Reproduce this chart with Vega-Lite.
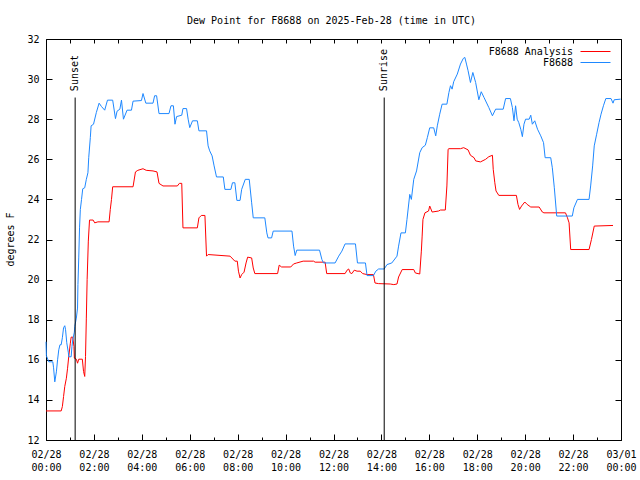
{
  "$schema": "https://vega.github.io/schema/vega-lite/v6.json",
  "autosize": "none",
  "padding": {"left": 46, "top": 39, "right": 19, "bottom": 40},
  "width": 575,
  "height": 401,
  "title": {"text": "Dew Point for F8688 on 2025-Feb-28 (time in UTC)", "font": "DejaVu Sans Mono", "fontSize": 10, "fontWeight": "normal", "color": "#000", "anchor": "middle", "offset": 8, "dx": -2},
  "config": {
    "view": {"stroke": "#000", "strokeWidth": 1},
    "font": "DejaVu Sans Mono",
    "axis": {"labelFont": "DejaVu Sans Mono", "labelFontSize": 10, "labelColor": "#000", "titleFont": "DejaVu Sans Mono", "titleFontSize": 10, "titleFontWeight": "normal", "titleColor": "#000", "tickColor": "#000", "tickWidth": 1, "domain": false, "grid": false}
  },
  "datasets": {
    "sun": [
      {"event": "Sunset", "time": "2025-02-28T01:13Z"},
      {"event": "Sunrise", "time": "2025-02-28T14:07Z"}
    ],
    "dew": [
      {"series": "F8688 Analysis", "time": "2025-02-28T00:00Z", "dewpoint": 13.45},
      {"series": "F8688 Analysis", "time": "2025-02-28T00:38Z", "dewpoint": 13.45},
      {"series": "F8688 Analysis", "time": "2025-02-28T00:41Z", "dewpoint": 13.67},
      {"series": "F8688 Analysis", "time": "2025-02-28T00:44Z", "dewpoint": 14.17},
      {"series": "F8688 Analysis", "time": "2025-02-28T00:47Z", "dewpoint": 14.67},
      {"series": "F8688 Analysis", "time": "2025-02-28T00:51Z", "dewpoint": 15.08},
      {"series": "F8688 Analysis", "time": "2025-02-28T00:54Z", "dewpoint": 15.58},
      {"series": "F8688 Analysis", "time": "2025-02-28T00:57Z", "dewpoint": 16.17},
      {"series": "F8688 Analysis", "time": "2025-02-28T01:01Z", "dewpoint": 16.83},
      {"series": "F8688 Analysis", "time": "2025-02-28T01:03Z", "dewpoint": 17.13},
      {"series": "F8688 Analysis", "time": "2025-02-28T01:07Z", "dewpoint": 17.13},
      {"series": "F8688 Analysis", "time": "2025-02-28T01:10Z", "dewpoint": 16.67},
      {"series": "F8688 Analysis", "time": "2025-02-28T01:11Z", "dewpoint": 16.08},
      {"series": "F8688 Analysis", "time": "2025-02-28T01:16Z", "dewpoint": 16.03},
      {"series": "F8688 Analysis", "time": "2025-02-28T01:19Z", "dewpoint": 15.83},
      {"series": "F8688 Analysis", "time": "2025-02-28T01:22Z", "dewpoint": 16.03},
      {"series": "F8688 Analysis", "time": "2025-02-28T01:31Z", "dewpoint": 16.03},
      {"series": "F8688 Analysis", "time": "2025-02-28T01:34Z", "dewpoint": 15.42},
      {"series": "F8688 Analysis", "time": "2025-02-28T01:37Z", "dewpoint": 15.17},
      {"series": "F8688 Analysis", "time": "2025-02-28T01:39Z", "dewpoint": 16.17},
      {"series": "F8688 Analysis", "time": "2025-02-28T01:41Z", "dewpoint": 18.08},
      {"series": "F8688 Analysis", "time": "2025-02-28T01:43Z", "dewpoint": 20.0},
      {"series": "F8688 Analysis", "time": "2025-02-28T01:46Z", "dewpoint": 21.92},
      {"series": "F8688 Analysis", "time": "2025-02-28T01:49Z", "dewpoint": 22.97},
      {"series": "F8688 Analysis", "time": "2025-02-28T01:58Z", "dewpoint": 22.97},
      {"series": "F8688 Analysis", "time": "2025-02-28T02:02Z", "dewpoint": 22.83},
      {"series": "F8688 Analysis", "time": "2025-02-28T02:10Z", "dewpoint": 22.88},
      {"series": "F8688 Analysis", "time": "2025-02-28T02:38Z", "dewpoint": 22.88},
      {"series": "F8688 Analysis", "time": "2025-02-28T02:41Z", "dewpoint": 23.5},
      {"series": "F8688 Analysis", "time": "2025-02-28T02:44Z", "dewpoint": 24.0},
      {"series": "F8688 Analysis", "time": "2025-02-28T02:47Z", "dewpoint": 24.63},
      {"series": "F8688 Analysis", "time": "2025-02-28T03:38Z", "dewpoint": 24.63},
      {"series": "F8688 Analysis", "time": "2025-02-28T03:44Z", "dewpoint": 25.37},
      {"series": "F8688 Analysis", "time": "2025-02-28T03:50Z", "dewpoint": 25.45},
      {"series": "F8688 Analysis", "time": "2025-02-28T04:03Z", "dewpoint": 25.53},
      {"series": "F8688 Analysis", "time": "2025-02-28T04:11Z", "dewpoint": 25.45},
      {"series": "F8688 Analysis", "time": "2025-02-28T04:28Z", "dewpoint": 25.42},
      {"series": "F8688 Analysis", "time": "2025-02-28T04:38Z", "dewpoint": 25.37},
      {"series": "F8688 Analysis", "time": "2025-02-28T04:43Z", "dewpoint": 24.8},
      {"series": "F8688 Analysis", "time": "2025-02-28T04:53Z", "dewpoint": 24.67},
      {"series": "F8688 Analysis", "time": "2025-02-28T05:29Z", "dewpoint": 24.67},
      {"series": "F8688 Analysis", "time": "2025-02-28T05:34Z", "dewpoint": 24.8},
      {"series": "F8688 Analysis", "time": "2025-02-28T05:40Z", "dewpoint": 24.8},
      {"series": "F8688 Analysis", "time": "2025-02-28T05:43Z", "dewpoint": 22.58},
      {"series": "F8688 Analysis", "time": "2025-02-28T06:19Z", "dewpoint": 22.58},
      {"series": "F8688 Analysis", "time": "2025-02-28T06:23Z", "dewpoint": 23.08},
      {"series": "F8688 Analysis", "time": "2025-02-28T06:29Z", "dewpoint": 23.2},
      {"series": "F8688 Analysis", "time": "2025-02-28T06:38Z", "dewpoint": 23.2},
      {"series": "F8688 Analysis", "time": "2025-02-28T06:42Z", "dewpoint": 21.17},
      {"series": "F8688 Analysis", "time": "2025-02-28T06:46Z", "dewpoint": 21.25},
      {"series": "F8688 Analysis", "time": "2025-02-28T07:41Z", "dewpoint": 21.17},
      {"series": "F8688 Analysis", "time": "2025-02-28T07:53Z", "dewpoint": 20.92},
      {"series": "F8688 Analysis", "time": "2025-02-28T07:59Z", "dewpoint": 20.92},
      {"series": "F8688 Analysis", "time": "2025-02-28T08:02Z", "dewpoint": 20.42},
      {"series": "F8688 Analysis", "time": "2025-02-28T08:06Z", "dewpoint": 20.08},
      {"series": "F8688 Analysis", "time": "2025-02-28T08:10Z", "dewpoint": 20.25},
      {"series": "F8688 Analysis", "time": "2025-02-28T08:16Z", "dewpoint": 20.37},
      {"series": "F8688 Analysis", "time": "2025-02-28T08:21Z", "dewpoint": 20.83},
      {"series": "F8688 Analysis", "time": "2025-02-28T08:25Z", "dewpoint": 21.12},
      {"series": "F8688 Analysis", "time": "2025-02-28T08:35Z", "dewpoint": 21.08},
      {"series": "F8688 Analysis", "time": "2025-02-28T08:39Z", "dewpoint": 20.58},
      {"series": "F8688 Analysis", "time": "2025-02-28T08:43Z", "dewpoint": 20.3},
      {"series": "F8688 Analysis", "time": "2025-02-28T09:40Z", "dewpoint": 20.3},
      {"series": "F8688 Analysis", "time": "2025-02-28T09:44Z", "dewpoint": 20.72},
      {"series": "F8688 Analysis", "time": "2025-02-28T09:50Z", "dewpoint": 20.63},
      {"series": "F8688 Analysis", "time": "2025-02-28T10:13Z", "dewpoint": 20.63},
      {"series": "F8688 Analysis", "time": "2025-02-28T10:20Z", "dewpoint": 20.78},
      {"series": "F8688 Analysis", "time": "2025-02-28T10:28Z", "dewpoint": 20.83},
      {"series": "F8688 Analysis", "time": "2025-02-28T10:44Z", "dewpoint": 20.92},
      {"series": "F8688 Analysis", "time": "2025-02-28T11:10Z", "dewpoint": 20.92},
      {"series": "F8688 Analysis", "time": "2025-02-28T11:14Z", "dewpoint": 20.87},
      {"series": "F8688 Analysis", "time": "2025-02-28T11:39Z", "dewpoint": 20.87},
      {"series": "F8688 Analysis", "time": "2025-02-28T11:43Z", "dewpoint": 20.3},
      {"series": "F8688 Analysis", "time": "2025-02-28T12:29Z", "dewpoint": 20.3},
      {"series": "F8688 Analysis", "time": "2025-02-28T12:34Z", "dewpoint": 20.47},
      {"series": "F8688 Analysis", "time": "2025-02-28T12:38Z", "dewpoint": 20.53},
      {"series": "F8688 Analysis", "time": "2025-02-28T12:42Z", "dewpoint": 20.33},
      {"series": "F8688 Analysis", "time": "2025-02-28T12:46Z", "dewpoint": 20.3},
      {"series": "F8688 Analysis", "time": "2025-02-28T12:52Z", "dewpoint": 20.47},
      {"series": "F8688 Analysis", "time": "2025-02-28T12:59Z", "dewpoint": 20.42},
      {"series": "F8688 Analysis", "time": "2025-02-28T13:07Z", "dewpoint": 20.42},
      {"series": "F8688 Analysis", "time": "2025-02-28T13:13Z", "dewpoint": 20.3},
      {"series": "F8688 Analysis", "time": "2025-02-28T13:24Z", "dewpoint": 20.25},
      {"series": "F8688 Analysis", "time": "2025-02-28T13:40Z", "dewpoint": 20.25},
      {"series": "F8688 Analysis", "time": "2025-02-28T13:44Z", "dewpoint": 19.83},
      {"series": "F8688 Analysis", "time": "2025-02-28T13:53Z", "dewpoint": 19.8},
      {"series": "F8688 Analysis", "time": "2025-02-28T14:22Z", "dewpoint": 19.78},
      {"series": "F8688 Analysis", "time": "2025-02-28T14:31Z", "dewpoint": 19.75},
      {"series": "F8688 Analysis", "time": "2025-02-28T14:39Z", "dewpoint": 19.78},
      {"series": "F8688 Analysis", "time": "2025-02-28T14:43Z", "dewpoint": 20.13},
      {"series": "F8688 Analysis", "time": "2025-02-28T14:52Z", "dewpoint": 20.5},
      {"series": "F8688 Analysis", "time": "2025-02-28T15:21Z", "dewpoint": 20.5},
      {"series": "F8688 Analysis", "time": "2025-02-28T15:25Z", "dewpoint": 20.33},
      {"series": "F8688 Analysis", "time": "2025-02-28T15:36Z", "dewpoint": 20.28},
      {"series": "F8688 Analysis", "time": "2025-02-28T15:40Z", "dewpoint": 21.42},
      {"series": "F8688 Analysis", "time": "2025-02-28T15:42Z", "dewpoint": 22.17},
      {"series": "F8688 Analysis", "time": "2025-02-28T15:44Z", "dewpoint": 23.0},
      {"series": "F8688 Analysis", "time": "2025-02-28T15:49Z", "dewpoint": 23.33},
      {"series": "F8688 Analysis", "time": "2025-02-28T15:58Z", "dewpoint": 23.42},
      {"series": "F8688 Analysis", "time": "2025-02-28T16:01Z", "dewpoint": 23.67},
      {"series": "F8688 Analysis", "time": "2025-02-28T16:07Z", "dewpoint": 23.37},
      {"series": "F8688 Analysis", "time": "2025-02-28T16:23Z", "dewpoint": 23.42},
      {"series": "F8688 Analysis", "time": "2025-02-28T16:28Z", "dewpoint": 23.47},
      {"series": "F8688 Analysis", "time": "2025-02-28T16:40Z", "dewpoint": 23.47},
      {"series": "F8688 Analysis", "time": "2025-02-28T16:44Z", "dewpoint": 24.67},
      {"series": "F8688 Analysis", "time": "2025-02-28T16:47Z", "dewpoint": 26.5},
      {"series": "F8688 Analysis", "time": "2025-02-28T16:49Z", "dewpoint": 26.53},
      {"series": "F8688 Analysis", "time": "2025-02-28T17:18Z", "dewpoint": 26.53},
      {"series": "F8688 Analysis", "time": "2025-02-28T17:26Z", "dewpoint": 26.58},
      {"series": "F8688 Analysis", "time": "2025-02-28T17:37Z", "dewpoint": 26.47},
      {"series": "F8688 Analysis", "time": "2025-02-28T17:43Z", "dewpoint": 26.2},
      {"series": "F8688 Analysis", "time": "2025-02-28T17:52Z", "dewpoint": 26.08},
      {"series": "F8688 Analysis", "time": "2025-02-28T17:56Z", "dewpoint": 25.92},
      {"series": "F8688 Analysis", "time": "2025-02-28T18:08Z", "dewpoint": 25.87},
      {"series": "F8688 Analysis", "time": "2025-02-28T18:21Z", "dewpoint": 26.0},
      {"series": "F8688 Analysis", "time": "2025-02-28T18:29Z", "dewpoint": 26.13},
      {"series": "F8688 Analysis", "time": "2025-02-28T18:38Z", "dewpoint": 26.2},
      {"series": "F8688 Analysis", "time": "2025-02-28T18:40Z", "dewpoint": 25.5},
      {"series": "F8688 Analysis", "time": "2025-02-28T18:44Z", "dewpoint": 24.83},
      {"series": "F8688 Analysis", "time": "2025-02-28T18:47Z", "dewpoint": 24.42},
      {"series": "F8688 Analysis", "time": "2025-02-28T18:54Z", "dewpoint": 24.2},
      {"series": "F8688 Analysis", "time": "2025-02-28T19:38Z", "dewpoint": 24.2},
      {"series": "F8688 Analysis", "time": "2025-02-28T19:42Z", "dewpoint": 23.75},
      {"series": "F8688 Analysis", "time": "2025-02-28T19:46Z", "dewpoint": 23.5},
      {"series": "F8688 Analysis", "time": "2025-02-28T19:51Z", "dewpoint": 23.67},
      {"series": "F8688 Analysis", "time": "2025-02-28T19:59Z", "dewpoint": 23.87},
      {"series": "F8688 Analysis", "time": "2025-02-28T20:05Z", "dewpoint": 23.75},
      {"series": "F8688 Analysis", "time": "2025-02-28T20:14Z", "dewpoint": 23.62},
      {"series": "F8688 Analysis", "time": "2025-02-28T20:35Z", "dewpoint": 23.62},
      {"series": "F8688 Analysis", "time": "2025-02-28T20:43Z", "dewpoint": 23.37},
      {"series": "F8688 Analysis", "time": "2025-02-28T20:47Z", "dewpoint": 23.33},
      {"series": "F8688 Analysis", "time": "2025-02-28T21:41Z", "dewpoint": 23.33},
      {"series": "F8688 Analysis", "time": "2025-02-28T21:46Z", "dewpoint": 23.08},
      {"series": "F8688 Analysis", "time": "2025-02-28T21:50Z", "dewpoint": 22.83},
      {"series": "F8688 Analysis", "time": "2025-02-28T21:54Z", "dewpoint": 21.5},
      {"series": "F8688 Analysis", "time": "2025-02-28T22:40Z", "dewpoint": 21.5},
      {"series": "F8688 Analysis", "time": "2025-02-28T22:46Z", "dewpoint": 22.0},
      {"series": "F8688 Analysis", "time": "2025-02-28T22:53Z", "dewpoint": 22.67},
      {"series": "F8688 Analysis", "time": "2025-02-28T23:40Z", "dewpoint": 22.7},
      {"series": "F8688", "time": "2025-02-28T00:00Z", "dewpoint": 16.9},
      {"series": "F8688", "time": "2025-02-28T00:01Z", "dewpoint": 16.2},
      {"series": "F8688", "time": "2025-02-28T00:07Z", "dewpoint": 15.9},
      {"series": "F8688", "time": "2025-02-28T00:17Z", "dewpoint": 15.9},
      {"series": "F8688", "time": "2025-02-28T00:19Z", "dewpoint": 15.6},
      {"series": "F8688", "time": "2025-02-28T00:22Z", "dewpoint": 14.9},
      {"series": "F8688", "time": "2025-02-28T00:26Z", "dewpoint": 15.4},
      {"series": "F8688", "time": "2025-02-28T00:29Z", "dewpoint": 16.0},
      {"series": "F8688", "time": "2025-02-28T00:32Z", "dewpoint": 16.5},
      {"series": "F8688", "time": "2025-02-28T00:35Z", "dewpoint": 16.75},
      {"series": "F8688", "time": "2025-02-28T00:38Z", "dewpoint": 16.75},
      {"series": "F8688", "time": "2025-02-28T00:41Z", "dewpoint": 17.1},
      {"series": "F8688", "time": "2025-02-28T00:44Z", "dewpoint": 17.6},
      {"series": "F8688", "time": "2025-02-28T00:47Z", "dewpoint": 17.7},
      {"series": "F8688", "time": "2025-02-28T00:49Z", "dewpoint": 17.5},
      {"series": "F8688", "time": "2025-02-28T00:52Z", "dewpoint": 16.85},
      {"series": "F8688", "time": "2025-02-28T00:56Z", "dewpoint": 16.35},
      {"series": "F8688", "time": "2025-02-28T00:57Z", "dewpoint": 16.15},
      {"series": "F8688", "time": "2025-02-28T01:03Z", "dewpoint": 16.15},
      {"series": "F8688", "time": "2025-02-28T01:05Z", "dewpoint": 16.67},
      {"series": "F8688", "time": "2025-02-28T01:07Z", "dewpoint": 17.0},
      {"series": "F8688", "time": "2025-02-28T01:11Z", "dewpoint": 17.38},
      {"series": "F8688", "time": "2025-02-28T01:12Z", "dewpoint": 17.67},
      {"series": "F8688", "time": "2025-02-28T01:16Z", "dewpoint": 18.08},
      {"series": "F8688", "time": "2025-02-28T01:19Z", "dewpoint": 18.58},
      {"series": "F8688", "time": "2025-02-28T01:20Z", "dewpoint": 19.75},
      {"series": "F8688", "time": "2025-02-28T01:22Z", "dewpoint": 21.08},
      {"series": "F8688", "time": "2025-02-28T01:24Z", "dewpoint": 22.58},
      {"series": "F8688", "time": "2025-02-28T01:26Z", "dewpoint": 23.5},
      {"series": "F8688", "time": "2025-02-28T01:29Z", "dewpoint": 24.0},
      {"series": "F8688", "time": "2025-02-28T01:32Z", "dewpoint": 24.53},
      {"series": "F8688", "time": "2025-02-28T01:37Z", "dewpoint": 24.58},
      {"series": "F8688", "time": "2025-02-28T01:41Z", "dewpoint": 25.0},
      {"series": "F8688", "time": "2025-02-28T01:45Z", "dewpoint": 25.33},
      {"series": "F8688", "time": "2025-02-28T01:47Z", "dewpoint": 26.08},
      {"series": "F8688", "time": "2025-02-28T01:51Z", "dewpoint": 27.08},
      {"series": "F8688", "time": "2025-02-28T01:53Z", "dewpoint": 27.67},
      {"series": "F8688", "time": "2025-02-28T01:59Z", "dewpoint": 27.75},
      {"series": "F8688", "time": "2025-02-28T02:06Z", "dewpoint": 28.33},
      {"series": "F8688", "time": "2025-02-28T02:13Z", "dewpoint": 28.8},
      {"series": "F8688", "time": "2025-02-28T02:19Z", "dewpoint": 28.63},
      {"series": "F8688", "time": "2025-02-28T02:27Z", "dewpoint": 28.45},
      {"series": "F8688", "time": "2025-02-28T02:34Z", "dewpoint": 28.95},
      {"series": "F8688", "time": "2025-02-28T02:47Z", "dewpoint": 28.95},
      {"series": "F8688", "time": "2025-02-28T02:54Z", "dewpoint": 28.03},
      {"series": "F8688", "time": "2025-02-28T02:58Z", "dewpoint": 28.4},
      {"series": "F8688", "time": "2025-02-28T03:05Z", "dewpoint": 28.5},
      {"series": "F8688", "time": "2025-02-28T03:09Z", "dewpoint": 28.95},
      {"series": "F8688", "time": "2025-02-28T03:14Z", "dewpoint": 28.0},
      {"series": "F8688", "time": "2025-02-28T03:23Z", "dewpoint": 28.45},
      {"series": "F8688", "time": "2025-02-28T03:34Z", "dewpoint": 28.45},
      {"series": "F8688", "time": "2025-02-28T03:38Z", "dewpoint": 28.9},
      {"series": "F8688", "time": "2025-02-28T03:59Z", "dewpoint": 28.93},
      {"series": "F8688", "time": "2025-02-28T04:03Z", "dewpoint": 29.28},
      {"series": "F8688", "time": "2025-02-28T04:10Z", "dewpoint": 28.8},
      {"series": "F8688", "time": "2025-02-28T04:28Z", "dewpoint": 28.8},
      {"series": "F8688", "time": "2025-02-28T04:32Z", "dewpoint": 29.17},
      {"series": "F8688", "time": "2025-02-28T04:37Z", "dewpoint": 29.17},
      {"series": "F8688", "time": "2025-02-28T04:43Z", "dewpoint": 28.28},
      {"series": "F8688", "time": "2025-02-28T05:08Z", "dewpoint": 28.28},
      {"series": "F8688", "time": "2025-02-28T05:13Z", "dewpoint": 28.67},
      {"series": "F8688", "time": "2025-02-28T05:19Z", "dewpoint": 28.67},
      {"series": "F8688", "time": "2025-02-28T05:23Z", "dewpoint": 27.75},
      {"series": "F8688", "time": "2025-02-28T05:27Z", "dewpoint": 28.13},
      {"series": "F8688", "time": "2025-02-28T05:40Z", "dewpoint": 28.2},
      {"series": "F8688", "time": "2025-02-28T05:43Z", "dewpoint": 28.53},
      {"series": "F8688", "time": "2025-02-28T05:52Z", "dewpoint": 28.53},
      {"series": "F8688", "time": "2025-02-28T05:56Z", "dewpoint": 28.0},
      {"series": "F8688", "time": "2025-02-28T06:00Z", "dewpoint": 27.58},
      {"series": "F8688", "time": "2025-02-28T06:07Z", "dewpoint": 27.92},
      {"series": "F8688", "time": "2025-02-28T06:19Z", "dewpoint": 27.92},
      {"series": "F8688", "time": "2025-02-28T06:23Z", "dewpoint": 27.42},
      {"series": "F8688", "time": "2025-02-28T06:42Z", "dewpoint": 27.42},
      {"series": "F8688", "time": "2025-02-28T06:46Z", "dewpoint": 26.67},
      {"series": "F8688", "time": "2025-02-28T06:50Z", "dewpoint": 26.42},
      {"series": "F8688", "time": "2025-02-28T06:56Z", "dewpoint": 26.17},
      {"series": "F8688", "time": "2025-02-28T07:01Z", "dewpoint": 25.67},
      {"series": "F8688", "time": "2025-02-28T07:07Z", "dewpoint": 25.12},
      {"series": "F8688", "time": "2025-02-28T07:24Z", "dewpoint": 25.12},
      {"series": "F8688", "time": "2025-02-28T07:28Z", "dewpoint": 24.5},
      {"series": "F8688", "time": "2025-02-28T07:43Z", "dewpoint": 24.5},
      {"series": "F8688", "time": "2025-02-28T07:47Z", "dewpoint": 24.83},
      {"series": "F8688", "time": "2025-02-28T07:53Z", "dewpoint": 24.83},
      {"series": "F8688", "time": "2025-02-28T07:58Z", "dewpoint": 23.95},
      {"series": "F8688", "time": "2025-02-28T08:06Z", "dewpoint": 23.95},
      {"series": "F8688", "time": "2025-02-28T08:10Z", "dewpoint": 24.5},
      {"series": "F8688", "time": "2025-02-28T08:19Z", "dewpoint": 25.0},
      {"series": "F8688", "time": "2025-02-28T08:29Z", "dewpoint": 25.0},
      {"series": "F8688", "time": "2025-02-28T08:35Z", "dewpoint": 23.83},
      {"series": "F8688", "time": "2025-02-28T08:39Z", "dewpoint": 23.08},
      {"series": "F8688", "time": "2025-02-28T09:08Z", "dewpoint": 23.08},
      {"series": "F8688", "time": "2025-02-28T09:13Z", "dewpoint": 22.33},
      {"series": "F8688", "time": "2025-02-28T09:16Z", "dewpoint": 22.08},
      {"series": "F8688", "time": "2025-02-28T09:25Z", "dewpoint": 22.08},
      {"series": "F8688", "time": "2025-02-28T09:29Z", "dewpoint": 22.42},
      {"series": "F8688", "time": "2025-02-28T10:16Z", "dewpoint": 22.42},
      {"series": "F8688", "time": "2025-02-28T10:20Z", "dewpoint": 21.67},
      {"series": "F8688", "time": "2025-02-28T10:24Z", "dewpoint": 21.2},
      {"series": "F8688", "time": "2025-02-28T10:28Z", "dewpoint": 21.47},
      {"series": "F8688", "time": "2025-02-28T11:25Z", "dewpoint": 21.47},
      {"series": "F8688", "time": "2025-02-28T11:31Z", "dewpoint": 21.0},
      {"series": "F8688", "time": "2025-02-28T11:35Z", "dewpoint": 20.83},
      {"series": "F8688", "time": "2025-02-28T12:04Z", "dewpoint": 20.83},
      {"series": "F8688", "time": "2025-02-28T12:13Z", "dewpoint": 21.17},
      {"series": "F8688", "time": "2025-02-28T12:21Z", "dewpoint": 21.42},
      {"series": "F8688", "time": "2025-02-28T12:29Z", "dewpoint": 21.78},
      {"series": "F8688", "time": "2025-02-28T12:55Z", "dewpoint": 21.78},
      {"series": "F8688", "time": "2025-02-28T13:00Z", "dewpoint": 20.83},
      {"series": "F8688", "time": "2025-02-28T13:20Z", "dewpoint": 20.83},
      {"series": "F8688", "time": "2025-02-28T13:24Z", "dewpoint": 20.2},
      {"series": "F8688", "time": "2025-02-28T13:40Z", "dewpoint": 20.2},
      {"series": "F8688", "time": "2025-02-28T13:46Z", "dewpoint": 20.42},
      {"series": "F8688", "time": "2025-02-28T13:53Z", "dewpoint": 20.53},
      {"series": "F8688", "time": "2025-02-28T14:07Z", "dewpoint": 20.53},
      {"series": "F8688", "time": "2025-02-28T14:14Z", "dewpoint": 20.75},
      {"series": "F8688", "time": "2025-02-28T14:26Z", "dewpoint": 20.83},
      {"series": "F8688", "time": "2025-02-28T14:39Z", "dewpoint": 21.17},
      {"series": "F8688", "time": "2025-02-28T14:43Z", "dewpoint": 21.67},
      {"series": "F8688", "time": "2025-02-28T14:49Z", "dewpoint": 22.33},
      {"series": "F8688", "time": "2025-02-28T15:00Z", "dewpoint": 22.33},
      {"series": "F8688", "time": "2025-02-28T15:04Z", "dewpoint": 23.0},
      {"series": "F8688", "time": "2025-02-28T15:11Z", "dewpoint": 24.25},
      {"series": "F8688", "time": "2025-02-28T15:15Z", "dewpoint": 24.0},
      {"series": "F8688", "time": "2025-02-28T15:21Z", "dewpoint": 25.0},
      {"series": "F8688", "time": "2025-02-28T15:28Z", "dewpoint": 25.42},
      {"series": "F8688", "time": "2025-02-28T15:36Z", "dewpoint": 26.33},
      {"series": "F8688", "time": "2025-02-28T15:42Z", "dewpoint": 26.58},
      {"series": "F8688", "time": "2025-02-28T15:50Z", "dewpoint": 26.7},
      {"series": "F8688", "time": "2025-02-28T15:55Z", "dewpoint": 27.08},
      {"series": "F8688", "time": "2025-02-28T16:01Z", "dewpoint": 27.57},
      {"series": "F8688", "time": "2025-02-28T16:11Z", "dewpoint": 27.57},
      {"series": "F8688", "time": "2025-02-28T16:16Z", "dewpoint": 27.17},
      {"series": "F8688", "time": "2025-02-28T16:20Z", "dewpoint": 27.67},
      {"series": "F8688", "time": "2025-02-28T16:26Z", "dewpoint": 28.25},
      {"series": "F8688", "time": "2025-02-28T16:32Z", "dewpoint": 28.75},
      {"series": "F8688", "time": "2025-02-28T16:44Z", "dewpoint": 28.75},
      {"series": "F8688", "time": "2025-02-28T16:49Z", "dewpoint": 29.33},
      {"series": "F8688", "time": "2025-02-28T16:53Z", "dewpoint": 29.67},
      {"series": "F8688", "time": "2025-02-28T16:57Z", "dewpoint": 29.5},
      {"series": "F8688", "time": "2025-02-28T17:01Z", "dewpoint": 29.87},
      {"series": "F8688", "time": "2025-02-28T17:10Z", "dewpoint": 30.25},
      {"series": "F8688", "time": "2025-02-28T17:18Z", "dewpoint": 30.75},
      {"series": "F8688", "time": "2025-02-28T17:25Z", "dewpoint": 31.03},
      {"series": "F8688", "time": "2025-02-28T17:29Z", "dewpoint": 31.08},
      {"series": "F8688", "time": "2025-02-28T17:33Z", "dewpoint": 30.75},
      {"series": "F8688", "time": "2025-02-28T17:37Z", "dewpoint": 30.42},
      {"series": "F8688", "time": "2025-02-28T17:43Z", "dewpoint": 29.83},
      {"series": "F8688", "time": "2025-02-28T17:49Z", "dewpoint": 30.33},
      {"series": "F8688", "time": "2025-02-28T17:56Z", "dewpoint": 29.83},
      {"series": "F8688", "time": "2025-02-28T18:04Z", "dewpoint": 28.97},
      {"series": "F8688", "time": "2025-02-28T18:10Z", "dewpoint": 29.37},
      {"series": "F8688", "time": "2025-02-28T18:17Z", "dewpoint": 29.08},
      {"series": "F8688", "time": "2025-02-28T18:29Z", "dewpoint": 28.58},
      {"series": "F8688", "time": "2025-02-28T18:38Z", "dewpoint": 28.17},
      {"series": "F8688", "time": "2025-02-28T18:46Z", "dewpoint": 28.5},
      {"series": "F8688", "time": "2025-02-28T19:05Z", "dewpoint": 28.5},
      {"series": "F8688", "time": "2025-02-28T19:11Z", "dewpoint": 29.03},
      {"series": "F8688", "time": "2025-02-28T19:23Z", "dewpoint": 29.03},
      {"series": "F8688", "time": "2025-02-28T19:28Z", "dewpoint": 28.58},
      {"series": "F8688", "time": "2025-02-28T19:32Z", "dewpoint": 27.92},
      {"series": "F8688", "time": "2025-02-28T19:36Z", "dewpoint": 28.67},
      {"series": "F8688", "time": "2025-02-28T19:40Z", "dewpoint": 28.0},
      {"series": "F8688", "time": "2025-02-28T19:44Z", "dewpoint": 27.83},
      {"series": "F8688", "time": "2025-02-28T19:49Z", "dewpoint": 27.5},
      {"series": "F8688", "time": "2025-02-28T19:53Z", "dewpoint": 27.13},
      {"series": "F8688", "time": "2025-02-28T19:57Z", "dewpoint": 27.75},
      {"series": "F8688", "time": "2025-02-28T20:01Z", "dewpoint": 28.0},
      {"series": "F8688", "time": "2025-02-28T20:10Z", "dewpoint": 28.0},
      {"series": "F8688", "time": "2025-02-28T20:14Z", "dewpoint": 28.2},
      {"series": "F8688", "time": "2025-02-28T20:18Z", "dewpoint": 27.75},
      {"series": "F8688", "time": "2025-02-28T20:24Z", "dewpoint": 27.92},
      {"series": "F8688", "time": "2025-02-28T20:31Z", "dewpoint": 27.5},
      {"series": "F8688", "time": "2025-02-28T20:39Z", "dewpoint": 27.17},
      {"series": "F8688", "time": "2025-02-28T20:46Z", "dewpoint": 26.83},
      {"series": "F8688", "time": "2025-02-28T20:50Z", "dewpoint": 26.08},
      {"series": "F8688", "time": "2025-02-28T21:04Z", "dewpoint": 26.08},
      {"series": "F8688", "time": "2025-02-28T21:08Z", "dewpoint": 25.58},
      {"series": "F8688", "time": "2025-02-28T21:13Z", "dewpoint": 24.58},
      {"series": "F8688", "time": "2025-02-28T21:19Z", "dewpoint": 23.17},
      {"series": "F8688", "time": "2025-02-28T21:58Z", "dewpoint": 23.17},
      {"series": "F8688", "time": "2025-02-28T22:02Z", "dewpoint": 23.58},
      {"series": "F8688", "time": "2025-02-28T22:11Z", "dewpoint": 24.0},
      {"series": "F8688", "time": "2025-02-28T22:40Z", "dewpoint": 24.0},
      {"series": "F8688", "time": "2025-02-28T22:44Z", "dewpoint": 24.67},
      {"series": "F8688", "time": "2025-02-28T22:49Z", "dewpoint": 25.67},
      {"series": "F8688", "time": "2025-02-28T22:53Z", "dewpoint": 26.67},
      {"series": "F8688", "time": "2025-02-28T22:59Z", "dewpoint": 27.25},
      {"series": "F8688", "time": "2025-02-28T23:05Z", "dewpoint": 27.83},
      {"series": "F8688", "time": "2025-02-28T23:10Z", "dewpoint": 28.25},
      {"series": "F8688", "time": "2025-02-28T23:16Z", "dewpoint": 28.67},
      {"series": "F8688", "time": "2025-02-28T23:22Z", "dewpoint": 29.03},
      {"series": "F8688", "time": "2025-02-28T23:35Z", "dewpoint": 29.03},
      {"series": "F8688", "time": "2025-02-28T23:40Z", "dewpoint": 28.8},
      {"series": "F8688", "time": "2025-02-28T23:43Z", "dewpoint": 28.97},
      {"series": "F8688", "time": "2025-02-28T23:59Z", "dewpoint": 29.0}
    ]
  },
  "resolve": {"axis": {"x": "independent", "y": "independent"}},
  "layer": [
    {
      "data": {"name": "dew"},
      "mark": {"type": "line", "strokeWidth": 1, "interpolate": "linear"},
      "encoding": {
        "x": {"field": "time", "type": "temporal",
          "scale": {"type": "utc", "domain": [1740700800000, 1740787200000], "nice": false},
          "axis": {"orient": "bottom", "title": null, "values": [1740700800000, 1740708000000, 1740715200000, 1740722400000, 1740729600000, 1740736800000, 1740744000000, 1740751200000, 1740758400000, 1740765600000, 1740772800000, 1740780000000, 1740787200000], "tickSize": -6, "labelPadding": 15, "labelFlush": false, "labelOverlap": false, "labelBound": false, "labelLineHeight": 13,
            "labelExpr": "[utcFormat(datum.value, '%m/%d'), utcFormat(datum.value, '%H:%M')]"}},
        "y": {"field": "dewpoint", "type": "quantitative",
          "scale": {"domain": [12, 32], "nice": false, "zero": false},
          "axis": {"orient": "left", "values": [12, 14, 16, 18, 20, 22, 24, 26, 28, 30, 32], "tickSize": -6, "labelPadding": 13, "labelBaseline": "middle",
            "title": "degrees F", "titleX": -36, "titleY": 200, "titleAngle": -90, "titleAlign": "center", "titleBaseline": "middle"}},
        "color": {"field": "series", "type": "nominal",
          "scale": {"domain": ["F8688 Analysis", "F8688"], "range": ["#ff0000", "#1e88ff"]},
          "legend": {"title": null, "orient": "none", "legendX": 544, "legendY": 7, "padding": 0, "symbolType": "M-3,0H3", "symbolSize": 100, "symbolStrokeWidth": 1, "labelAlign": "right", "labelOffset": -28, "labelFont": "DejaVu Sans Mono", "labelFontSize": 10, "labelColor": "#000", "rowPadding": 0}}
      }
    },
    {
      "data": {"name": "sun"},
      "mark": {"type": "rule", "color": "#000", "strokeWidth": 1},
      "encoding": {
        "x": {"field": "time", "type": "temporal", "axis": {"orient": "top", "title": null, "labels": false, "values": [1740700800000, 1740704400000, 1740708000000, 1740711600000, 1740715200000, 1740718800000, 1740722400000, 1740726000000, 1740729600000, 1740733200000, 1740736800000, 1740740400000, 1740744000000, 1740747600000, 1740751200000, 1740754800000, 1740758400000, 1740762000000, 1740765600000, 1740769200000, 1740772800000, 1740776400000, 1740780000000, 1740783600000, 1740787200000], "tickSize": -4}},
        "y": {"datum": 29.08, "type": "quantitative", "axis": {"orient": "right", "title": null, "labels": false, "values": [12, 14, 16, 18, 20, 22, 24, 26, 28, 30, 32], "tickSize": -6}},
        "y2": {"datum": 12}
      }
    },
    {
      "data": {"name": "sun"},
      "mark": {"type": "text", "angle": 270, "align": "left", "baseline": "middle", "font": "DejaVu Sans Mono", "fontSize": 10, "color": "#000"},
      "encoding": {
        "x": {"field": "time", "type": "temporal", "axis": {"orient": "bottom", "title": null, "labels": false, "values": [1740700800000, 1740704400000, 1740708000000, 1740711600000, 1740715200000, 1740718800000, 1740722400000, 1740726000000, 1740729600000, 1740733200000, 1740736800000, 1740740400000, 1740744000000, 1740747600000, 1740751200000, 1740754800000, 1740758400000, 1740762000000, 1740765600000, 1740769200000, 1740772800000, 1740776400000, 1740780000000, 1740783600000, 1740787200000], "tickSize": -3}},
        "y": {"datum": 29.4, "type": "quantitative", "axis": null},
        "text": {"field": "event"}
      }
    }
  ]
}
